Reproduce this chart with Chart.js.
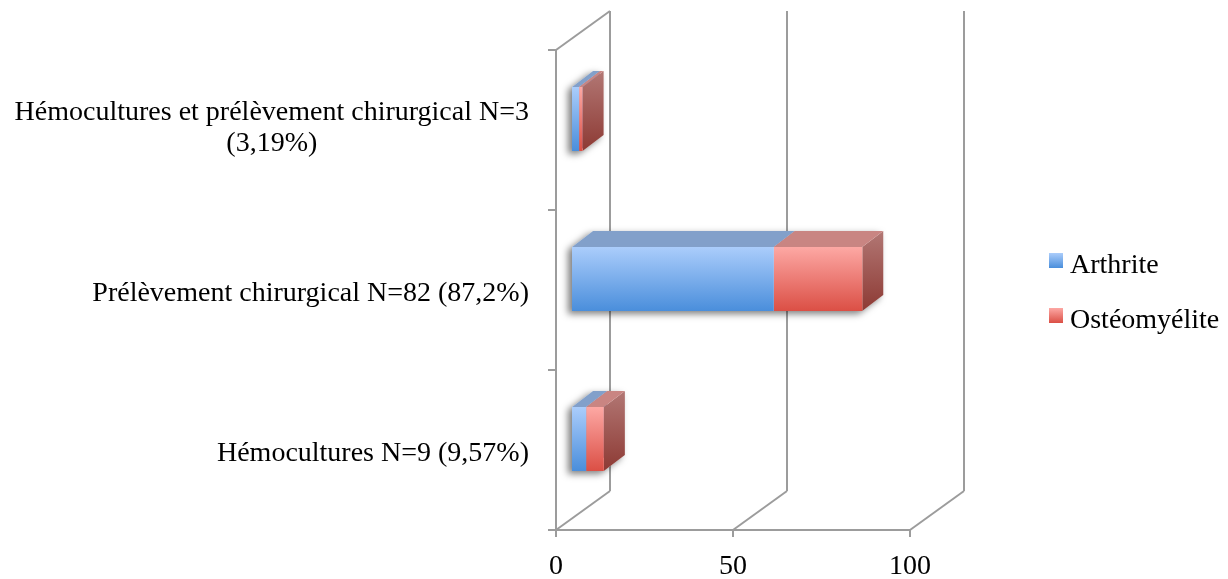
<!DOCTYPE html>
<html>
<head>
<meta charset="utf-8">
<script src="https://cdn.jsdelivr.net/npm/chart.js@4"></script>
<style>
  html, body { margin: 0; padding: 0; background: #fff; }
</style>
</head>
<body>
<canvas id="chart" width="1228" height="579"></canvas>
<script>
// data
const categories = [
  ["Hémocultures et prélèvement chirurgical N=3", "(3,19%)"],
  ["Prélèvement chirurgical N=82 (87,2%)"],
  ["Hémocultures N=9 (9,57%)"]
];
const arthrite = [2, 57, 4];
const osteomyelite = [1, 25, 5];
const seriesNames = ["Arthrite", "Ostéomyélite"];
const xMax = 100;
const xStep = 50;

const FONT = '"Liberation Serif", serif';
const FONT_SIZE = 28;
const GRID = '#9c9c9c';

// 3d look
const WALL_DX = 54, WALL_DY = -39;
const BAR_X = 16, BAR_Y = -11;
const BAR_DX = 21, BAR_DY = -16;

const palette = [
  { light: '#abcdfb', dark: '#4a8edb', top: '#82a0ca', side1: '#7590b8', side2: '#4d6f9e' },
  { light: '#fda8a4', dark: '#db4f45', top: '#c98582', side1: '#b27774', side2: '#8d3a34' }
];

function frontGradient(idx) {
  return function (c) {
    const chart = c.chart;
    if (!chart.chartArea) return palette[idx].dark;
    const y = chart.scales.y.getPixelForValue(c.dataIndex);
    const g = chart.ctx.createLinearGradient(0, y - 32, 0, y + 32);
    g.addColorStop(0, palette[idx].light);
    g.addColorStop(1, palette[idx].dark);
    return g;
  };
}

const threeD = {
  id: 'threeD',
  beforeDraw(chart) {
    const ctx = chart.ctx;
    const xs = chart.scales.x;
    const a = chart.chartArea;
    ctx.save();
    ctx.strokeStyle = GRID;
    ctx.lineWidth = 2;
    ctx.lineCap = 'butt';
    const line = (x1, y1, x2, y2) => {
      ctx.beginPath(); ctx.moveTo(x1, y1); ctx.lineTo(x2, y2); ctx.stroke();
    };
    // left wall
    line(a.left, a.top, a.left, a.bottom);
    line(a.left, a.top, a.left + WALL_DX, a.top + WALL_DY);
    // floor front edge
    line(a.left - 8, a.bottom, a.right, a.bottom);
    for (let v = 0; v <= xMax; v += xStep) {
      const x = xs.getPixelForValue(v);
      line(x, a.bottom, x + WALL_DX, a.bottom + WALL_DY);
      line(x + WALL_DX, a.top + WALL_DY, x + WALL_DX, a.bottom + WALL_DY);
      line(x, a.bottom, x, a.bottom + 7);
    }
    // category ticks on the left wall
    const n = categories.length;
    for (let i = 0; i <= n; i++) {
      const y = a.top + (a.bottom - a.top) * i / n;
      line(a.left - 8, y, a.left, y);
    }
    ctx.restore();
  },
  beforeDatasetsDraw(chart) {
    const ctx = chart.ctx;
    ctx.save();
    ctx.translate(BAR_X, BAR_Y);
    const metas = chart.data.datasets.map((d, i) => chart.getDatasetMeta(i));
    // soft shadow behind each stacked bar
    categories.forEach((c, i) => {
      const first = metas[0].data[i], last = metas[metas.length - 1].data[i];
      const left = first.base, right = last.x;
      const top = first.y - first.height / 2, bottom = first.y + first.height / 2;
      ctx.save();
      ctx.shadowColor = 'rgba(0,0,0,0.5)';
      ctx.shadowBlur = 7;
      ctx.shadowOffsetX = -4;
      ctx.shadowOffsetY = 3;
      ctx.fillStyle = '#fff';
      ctx.beginPath();
      ctx.moveTo(left, bottom);
      ctx.lineTo(left, top);
      ctx.lineTo(left + BAR_DX, top + BAR_DY);
      ctx.lineTo(right + BAR_DX, top + BAR_DY);
      ctx.lineTo(right + BAR_DX, bottom + BAR_DY);
      ctx.lineTo(right, bottom);
      ctx.closePath();
      ctx.fill();
      ctx.restore();
    });
    // side and top faces
    metas.forEach((meta, di) => {
      const p = palette[di];
      meta.data.forEach(el => {
        const top = el.y - el.height / 2, bottom = el.y + el.height / 2;
        const g = ctx.createLinearGradient(0, top + BAR_DY, 0, bottom);
        g.addColorStop(0, p.side1);
        g.addColorStop(1, p.side2);
        ctx.fillStyle = g;
        ctx.beginPath();
        ctx.moveTo(el.x, top);
        ctx.lineTo(el.x + BAR_DX, top + BAR_DY);
        ctx.lineTo(el.x + BAR_DX, bottom + BAR_DY);
        ctx.lineTo(el.x, bottom);
        ctx.closePath();
        ctx.fill();
        ctx.fillStyle = p.top;
        ctx.beginPath();
        ctx.moveTo(el.base, top);
        ctx.lineTo(el.base + BAR_DX, top + BAR_DY);
        ctx.lineTo(el.x + BAR_DX, top + BAR_DY);
        ctx.lineTo(el.x, top);
        ctx.closePath();
        ctx.fill();
      });
    });
  },
  afterDatasetsDraw(chart) {
    chart.ctx.restore();
  },
  afterDraw(chart) {
    const ctx = chart.ctx;
    const ys = chart.scales.y;
    const a = chart.chartArea;
    ctx.save();
    ctx.font = FONT_SIZE + 'px ' + FONT;
    ctx.fillStyle = '#000';
    ctx.textBaseline = 'alphabetic';
    ctx.textAlign = 'center';
    // category labels, block right aligned, lines centred
    const labelRight = a.left - 27;
    const lh = 31;
    categories.forEach((lines, i) => {
      const cy = ys.getPixelForValue(i);
      const n = lines.length;
      const w = Math.max(...lines.map(t => ctx.measureText(t).width));
      const cx = labelRight - w / 2;
      lines.forEach((t, j) => {
        ctx.fillText(t, cx, cy + 11 + (j - (n - 1) / 2) * lh - 6 * (n - 1));
      });
    });
    // legend
    ctx.textAlign = 'left';
    const lx = 1049, ly = [253, 308];
    chart.data.datasets.forEach((ds, i) => {
      const p = palette[i];
      const g = ctx.createLinearGradient(0, ly[i], 0, ly[i] + 15);
      g.addColorStop(0, p.light);
      g.addColorStop(1, p.dark);
      ctx.fillStyle = g;
      ctx.fillRect(lx, ly[i], 14, 15);
      ctx.fillStyle = '#000';
      ctx.fillText(ds.label, lx + 21, ly[i] + 20);
    });
    ctx.restore();
  }
};

new Chart(document.getElementById('chart'), {
  type: 'bar',
  data: {
    labels: categories,
    datasets: [
      { label: seriesNames[0], data: arthrite, backgroundColor: frontGradient(0), clip: false },
      { label: seriesNames[1], data: osteomyelite, backgroundColor: frontGradient(1), clip: false }
    ]
  },
  options: {
    indexAxis: 'y',
    responsive: false,
    animation: false,
    layout: { padding: { left: 556, right: 318, top: 50, bottom: 0 } },
    datasets: { bar: { categoryPercentage: 0.8, barPercentage: 0.5, borderWidth: 0 } },
    plugins: { legend: { display: false }, tooltip: { enabled: false } },
    scales: {
      x: {
        stacked: true,
        min: 0,
        max: xMax,
        ticks: { stepSize: xStep, color: '#000', padding: 20, font: { family: FONT, size: FONT_SIZE } },
        grid: { display: false, drawTicks: false },
        border: { display: false },
        afterFit(scale) { scale.height = 49; }
      },
      y: {
        stacked: true,
        display: false
      }
    }
  },
  plugins: [threeD]
});
</script>
</body>
</html>
